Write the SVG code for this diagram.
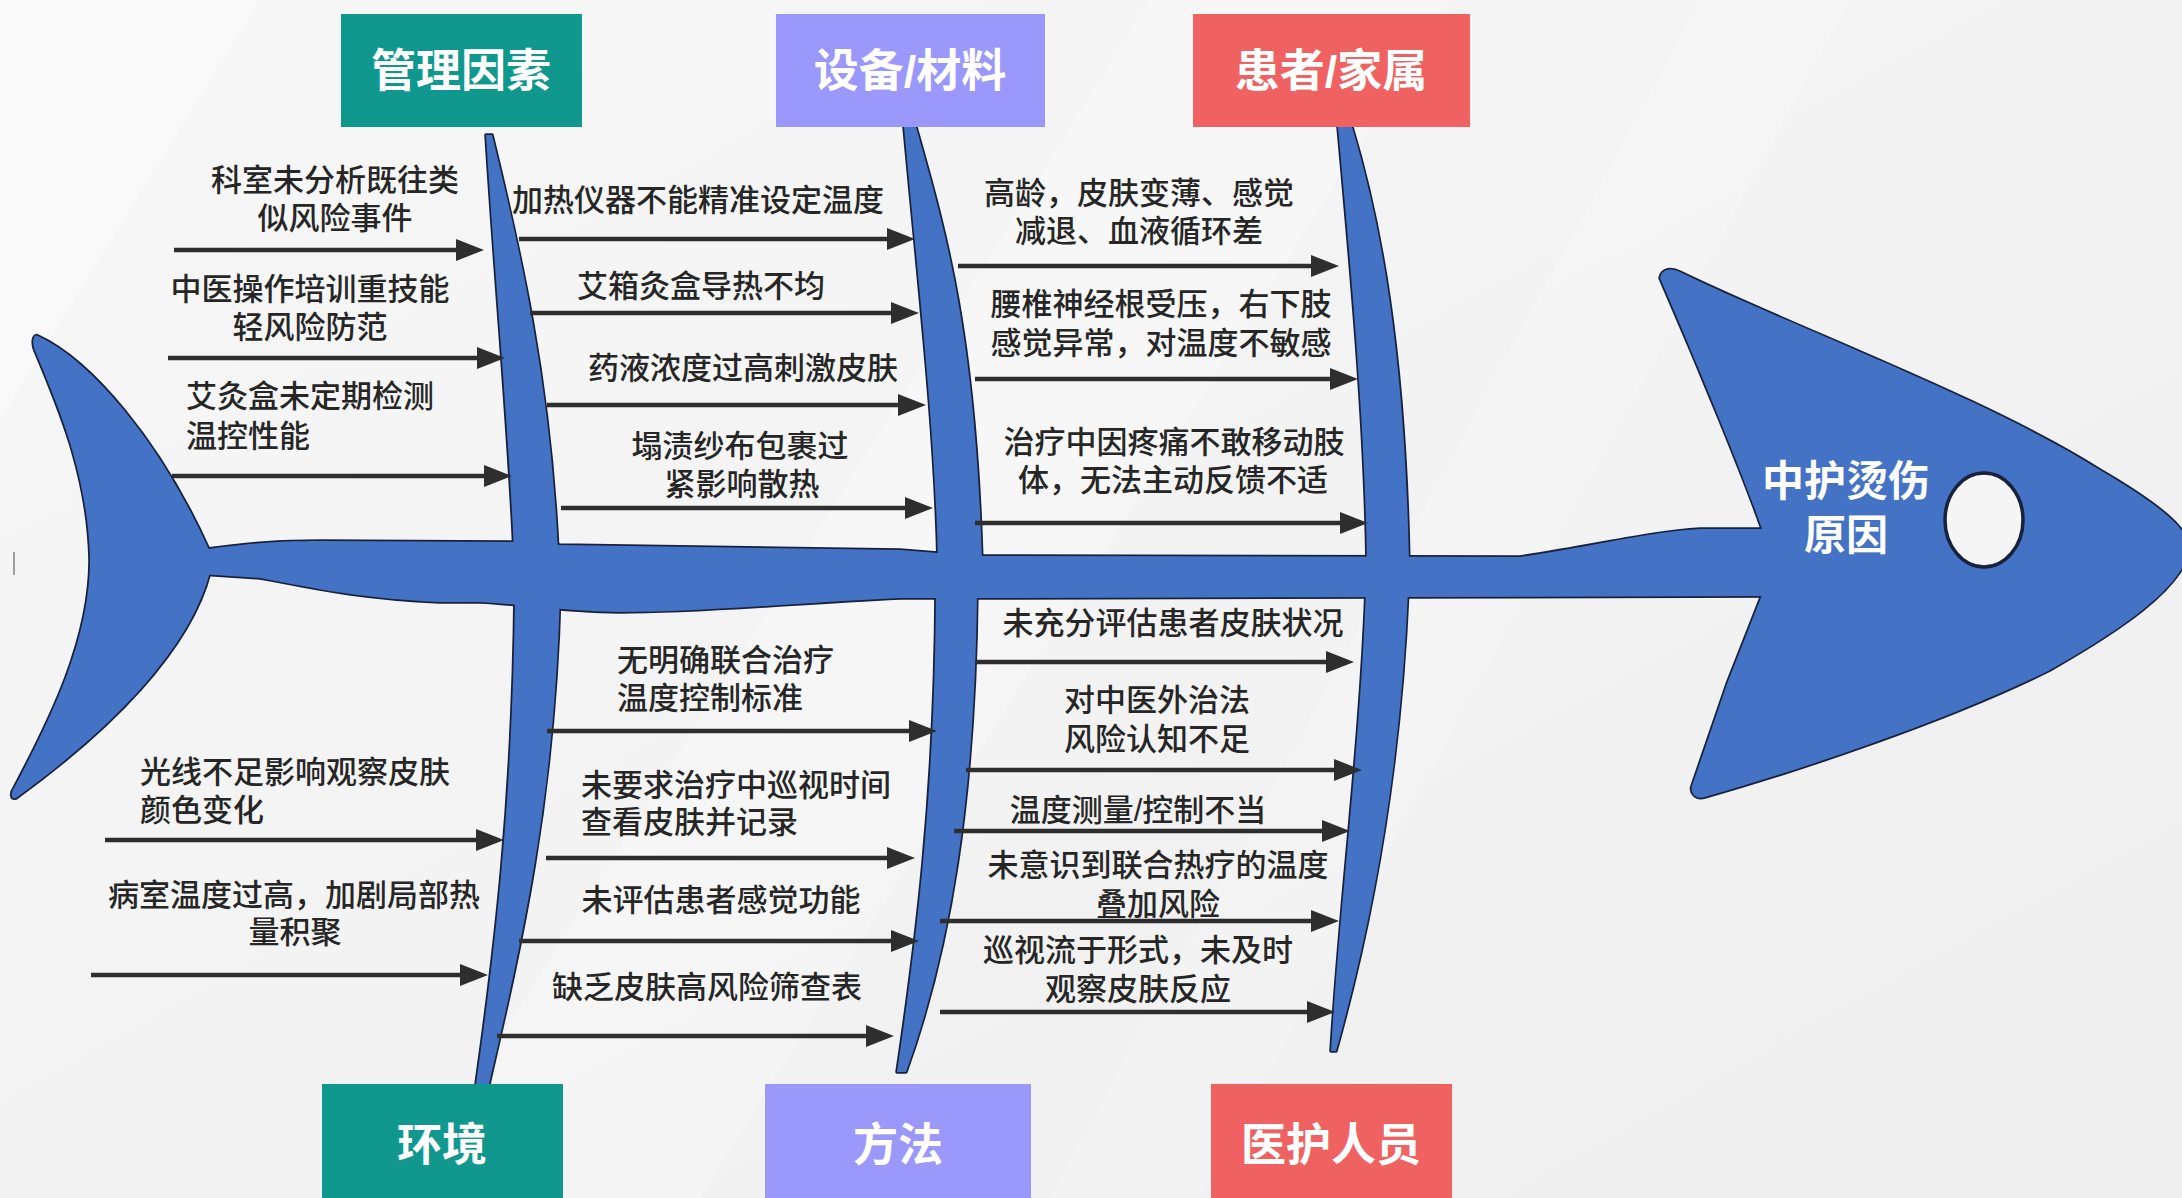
<svg xmlns="http://www.w3.org/2000/svg" xmlns:xlink="http://www.w3.org/1999/xlink" width="2182" height="1198" viewBox="0 0 2182 1198">
<style>
.cause{font-family:"Liberation Sans","Noto Sans CJK SC",sans-serif;font-size:31px;fill:#262626;font-weight:500}
.mid{text-anchor:middle}
.cat{font-family:"Liberation Sans","Noto Sans CJK SC",sans-serif;font-size:45px;font-weight:700;fill:#ffffff;text-anchor:middle}
.head{font-family:"Liberation Sans","Noto Sans CJK SC",sans-serif;font-size:42px;font-weight:700;fill:#ffffff;text-anchor:middle}
.teal{fill:#10988E}
.lav{fill:#9A98FB}
.red{fill:#F06262}
.arrow{stroke:#2E2E2E;stroke-width:4.5;fill:none;marker-end:url(#ah)}
.outline use{fill:#4472C4;stroke:#18223C;stroke-width:3.5;stroke-linejoin:round}
.body use{fill:#4472C4}
</style>
<defs>
<linearGradient id="bg" x1="0" y1="0" x2="1" y2="1">
<stop offset="0" stop-color="#F7F7F7"/>
<stop offset="0.5" stop-color="#F3F3F3"/>
<stop offset="1" stop-color="#EEEEEE"/>
</linearGradient>
<marker id="ah" markerUnits="userSpaceOnUse" markerWidth="30" markerHeight="24" refX="8" refY="12" orient="auto">
<path d="M0,1 L28,12 L0,23 Z" fill="#2E2E2E"/>
</marker>
<path id="tail" d="M38,336 C90,360 160,440 210,552 L210,572 C190,650 110,730 16,798 C10,800 11,792 14,788 C50,720 90,640 90,560 C88,470 55,400 34,348 C32,340 34,334 38,336 Z"/>
<path id="spine" d="M200,550 C250,543 280,541 320,541 L515,542 L560,545 L900,550 L975,556 L1520,557 C1600,545 1650,532 1700,529 L1775,529 L1775,596 L1400,597 L975,598 L900,598 C780,604 700,612 620,612 C560,611 520,604 480,602 L440,602 C350,598 300,585 260,578 L200,574 Z"/>
<path id="head" d="M1660,278 C1662,268 1672,268 1680,272 C1800,330 1990,400 2100,470 C2160,505 2190,530 2190,550 C2180,590 2120,630 2050,670 C1950,720 1800,770 1705,797 C1695,800 1690,792 1692,786 L1727,684 L1762,595 L1762,529 C1745,480 1700,370 1660,278 Z"/>
<path id="b1" d="M486,135 L492,135 C520,250 550,380 558,552 L514,552 C508,420 495,280 486,135 Z"/>
<path id="b2" d="M904,127 L916,127 C945,230 975,330 982,562 L938,562 C935,430 920,300 904,127 Z"/>
<path id="b3" d="M1338,127 L1352,127 C1380,220 1405,350 1409,566 L1367,566 C1365,420 1350,260 1338,127 Z"/>
<path id="b4" d="M515,590 L560,590 C555,800 520,950 489,1084 L476,1084 C495,950 513,800 515,590 Z"/>
<path id="b5" d="M936,590 L977,590 C975,800 950,950 906,1072 L897,1072 C915,950 935,800 936,590 Z"/>
<path id="b6" d="M1366,590 L1408,590 C1400,780 1370,930 1336,1051 L1331,1051 C1340,900 1360,750 1366,590 Z"/>
</defs>

<rect x="0" y="0" width="2182" height="1198" fill="url(#bg)"/>
<polygon points="0,0 260,0 0,420" fill="#FFFFFF" opacity="0.35"/>
<polygon points="1150,0 1450,0 700,1198 400,1198" fill="#FFFFFF" opacity="0.25"/>
<polygon points="1700,0 1850,0 1200,1198 1050,1198" fill="#FFFFFF" opacity="0.2"/>
<line x1="14" y1="552" x2="14" y2="575" stroke="#666" stroke-width="1.2"/>

<g id="fish">
<g class="outline">
<use xlink:href="#tail"/><use xlink:href="#spine"/><use xlink:href="#head"/>
<use xlink:href="#b1"/><use xlink:href="#b2"/><use xlink:href="#b3"/>
<use xlink:href="#b4"/><use xlink:href="#b5"/><use xlink:href="#b6"/>
</g>
<g class="body">
<use xlink:href="#tail"/><use xlink:href="#spine"/><use xlink:href="#head"/>
<use xlink:href="#b1"/><use xlink:href="#b2"/><use xlink:href="#b3"/>
<use xlink:href="#b4"/><use xlink:href="#b5"/><use xlink:href="#b6"/>
</g>
<ellipse cx="1984" cy="520" rx="39" ry="47" fill="#F5F5F5" stroke="#18223C" stroke-width="3.5"/>
</g>

<g id="effect">
<text class="head" x="1846" y="496">中护烫伤<tspan x="1846" dy="54">原因</tspan></text>
</g>

<g id="cat-management"><rect class="teal" x="341" y="14" width="241" height="113"/><text class="cat" x="461" y="87">管理因素</text></g>
<g id="cat-equipment"><rect class="lav" x="776" y="14" width="269" height="113"/><text class="cat" x="910" y="87">设备/材料</text></g>
<g id="cat-patient"><rect class="red" x="1193" y="14" width="277" height="113"/><text class="cat" x="1331" y="87">患者/家属</text></g>
<g id="cat-environment"><rect class="teal" x="322" y="1084" width="241" height="114"/><text class="cat" x="442" y="1161">环境</text></g>
<g id="cat-method"><rect class="lav" x="765" y="1084" width="266" height="114"/><text class="cat" x="898" y="1161">方法</text></g>
<g id="cat-staff"><rect class="red" x="1211" y="1084" width="241" height="114"/><text class="cat" x="1331" y="1161">医护人员</text></g>

<g id="connectors">
<line class="arrow" x1="174" y1="250" x2="464" y2="250"/>
<line class="arrow" x1="168" y1="358" x2="485" y2="358"/>
<line class="arrow" x1="172" y1="476" x2="492" y2="476"/>
<line class="arrow" x1="519" y1="239" x2="895" y2="239"/>
<line class="arrow" x1="530" y1="313" x2="899" y2="313"/>
<line class="arrow" x1="547" y1="405" x2="906" y2="405"/>
<line class="arrow" x1="561" y1="508" x2="913" y2="508"/>
<line class="arrow" x1="958" y1="266" x2="1319" y2="266"/>
<line class="arrow" x1="975" y1="379" x2="1338" y2="379"/>
<line class="arrow" x1="975" y1="523" x2="1348" y2="523"/>
<line class="arrow" x1="105" y1="840" x2="484" y2="840"/>
<line class="arrow" x1="91" y1="975" x2="468" y2="975"/>
<line class="arrow" x1="547" y1="731" x2="917" y2="731"/>
<line class="arrow" x1="546" y1="858" x2="895" y2="858"/>
<line class="arrow" x1="519" y1="941" x2="899" y2="941"/>
<line class="arrow" x1="497" y1="1036" x2="874" y2="1036"/>
<line class="arrow" x1="975" y1="662" x2="1334" y2="662"/>
<line class="arrow" x1="966" y1="770" x2="1342" y2="770"/>
<line class="arrow" x1="954" y1="831" x2="1330" y2="831"/>
<line class="arrow" x1="940" y1="921" x2="1319" y2="921"/>
<line class="arrow" x1="940" y1="1012" x2="1315" y2="1012"/>
</g>

<g id="c1"><text class="cause mid" x="335" y="191">科室未分析既往类<tspan x="335" dy="38">似风险事件</tspan></text></g>
<g id="c2"><text class="cause mid" x="310" y="300">中医操作培训重技能<tspan x="310" dy="38">轻风险防范</tspan></text></g>
<g id="c3"><text class="cause" x="186" y="407">艾灸盒未定期检测<tspan x="186" dy="40">温控性能</tspan></text></g>
<g id="c4"><text class="cause mid" x="698" y="211">加热仪器不能精准设定温度</text></g>
<g id="c5"><text class="cause mid" x="701" y="297">艾箱灸盒导热不均</text></g>
<g id="c6"><text class="cause mid" x="743" y="379">药液浓度过高刺激皮肤</text></g>
<g id="c7"><text class="cause mid" x="740" y="457">塌渍纱布包裹过<tspan x="742" dy="38">紧影响散热</tspan></text></g>
<g id="c8"><text class="cause mid" x="1139" y="204">高龄，皮肤变薄、感觉<tspan x="1139" dy="38">减退、血液循环差</tspan></text></g>
<g id="c9"><text class="cause mid" x="1161" y="315">腰椎神经根受压，右下肢<tspan x="1161" dy="39">感觉异常，对温度不敏感</tspan></text></g>
<g id="c10"><text class="cause mid" x="1174" y="453">治疗中因疼痛不敢移动肢<tspan x="1173" dy="38">体，无法主动反馈不适</tspan></text></g>
<g id="c11"><text class="cause" x="140" y="783">光线不足影响观察皮肤<tspan x="140" dy="38">颜色变化</tspan></text></g>
<g id="c12"><text class="cause mid" x="294" y="906">病室温度过高，加剧局部热<tspan x="295" dy="37">量积聚</tspan></text></g>
<g id="c13"><text class="cause" x="617" y="671">无明确联合治疗<tspan x="617" dy="38">温度控制标准</tspan></text></g>
<g id="c14"><text class="cause" x="581" y="796">未要求治疗中巡视时间<tspan x="581" dy="37">查看皮肤并记录</tspan></text></g>
<g id="c15"><text class="cause mid" x="721" y="911">未评估患者感觉功能</text></g>
<g id="c16"><text class="cause mid" x="707" y="998">缺乏皮肤高风险筛查表</text></g>
<g id="c17"><text class="cause mid" x="1173" y="634">未充分评估患者皮肤状况</text></g>
<g id="c18"><text class="cause mid" x="1157" y="711">对中医外治法<tspan x="1157" dy="39">风险认知不足</tspan></text></g>
<g id="c19"><text class="cause mid" x="1138" y="821">温度测量/控制不当</text></g>
<g id="c20"><text class="cause mid" x="1158" y="876">未意识到联合热疗的温度<tspan x="1158" dy="39">叠加风险</tspan></text></g>
<g id="c21"><text class="cause mid" x="1138" y="961">巡视流于形式，未及时<tspan x="1138" dy="39">观察皮肤反应</tspan></text></g>
</svg>
